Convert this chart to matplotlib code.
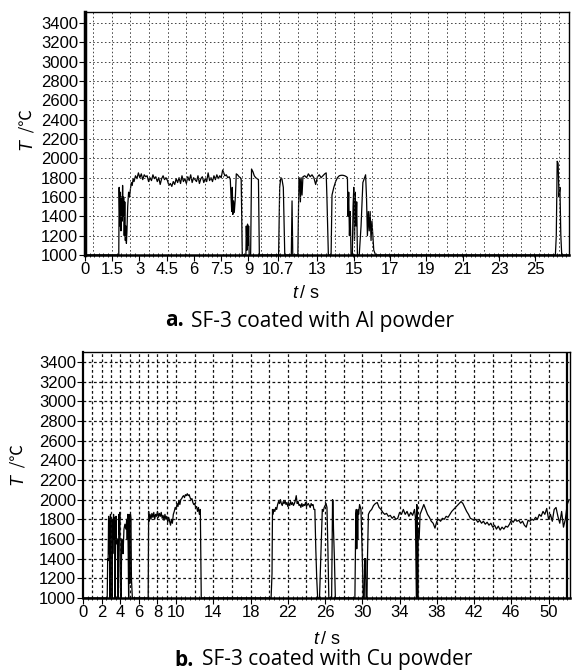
import matplotlib
matplotlib.use('Agg')
import matplotlib.pyplot as plt
import numpy as np

plt.rcParams['mathtext.fontset'] = 'custom'
plt.rcParams['mathtext.it'] = 'Liberation Sans:italic'
plt.rcParams['mathtext.rm'] = 'Liberation Sans'

# panel a: SF-3 coated with Al powder
ta = [0.0, 1.86, 1.88, 1.92, 1.95, 1.98, 2.01, 2.04, 2.07, 2.10, 2.13, 2.16, 2.19, 2.22, 2.25, 2.28,
      2.31, 2.35, 2.40, 2.45, 2.50, 2.55, 2.60, 2.65, 2.70,
      2.78, 2.86, 2.94, 3.02, 3.10, 3.18, 3.26, 3.34, 3.42, 3.50, 3.58, 3.66, 3.74, 3.82, 3.90, 3.98,
      4.06, 4.14, 4.22, 4.30, 4.38, 4.46, 4.54, 4.62, 4.70, 4.78, 4.86, 4.94, 5.02, 5.10, 5.18, 5.26,
      5.34, 5.42, 5.50, 5.58, 5.66, 5.74, 5.82, 5.90, 5.98, 6.06, 6.14, 6.22, 6.30, 6.38, 6.46, 6.54,
      6.62, 6.70, 6.78, 6.86, 6.94, 7.02, 7.10, 7.18, 7.26, 7.34, 7.42, 7.50, 7.58, 7.64, 7.70, 7.78,
      7.86, 7.94, 8.00, 8.04, 8.08, 8.11, 8.14, 8.18, 8.22, 8.28, 8.33, 8.40, 8.48, 8.56, 8.60, 8.66,
      8.86, 8.88, 8.92, 8.95, 8.98, 9.01, 9.04, 9.12, 9.17, 9.25, 9.32, 9.40, 9.48, 9.55, 9.60,
      10.66, 10.72, 10.78, 10.84, 10.92, 11.00, 11.36, 11.40, 11.44,
      11.72, 11.78, 11.82, 11.86, 11.90, 11.95, 12.00, 12.10, 12.20, 12.30, 12.40, 12.50, 12.60, 12.70,
      12.80, 12.90, 13.00, 13.10, 13.20, 13.28, 13.32, 13.40,
      13.55, 13.60, 13.70, 13.80, 13.90, 14.00, 14.10, 14.20, 14.30, 14.40, 14.45, 14.48, 14.52, 14.56,
      14.60, 14.65, 14.72, 14.76, 14.80, 14.84, 14.88, 14.92, 14.96, 15.00, 15.10, 15.20, 15.30, 15.45,
      15.50, 15.55, 15.60, 15.65, 15.70, 15.75, 15.80, 15.90, 16.00,
      25.90, 25.95, 26.00, 26.05, 26.10, 26.15, 26.20, 26.25, 26.80]
Ta = [1000, 1000, 1700, 1300, 1650, 1250, 1600, 1350, 1720, 1400, 1600, 1200, 1550, 1150, 1300, 1120,
      1250, 1500, 1650, 1600, 1680, 1750, 1720, 1790, 1760,
      1820, 1790, 1850, 1800, 1840, 1780, 1830, 1810, 1820, 1760, 1800, 1770, 1830, 1790, 1810, 1760,
      1800, 1730, 1790, 1820, 1780, 1800, 1770, 1720, 1740, 1710, 1760, 1730, 1790, 1750, 1800, 1740,
      1820, 1760, 1790, 1740, 1810, 1770, 1830, 1750, 1800, 1780, 1760, 1820, 1740, 1790, 1810, 1750,
      1790, 1760, 1850, 1770, 1800, 1760, 1820, 1780, 1830, 1790, 1820, 1800, 1880, 1850, 1820, 1830,
      1800, 1810, 1780, 1600, 1450, 1700, 1420, 1560, 1440, 1600, 1840, 1830, 1810, 1800, 1780, 1000,
      1000, 1300, 1050, 1320, 1100, 1300, 1000, 1000, 1890, 1860, 1820, 1800, 1790, 1780, 1000,
      1000, 1700, 1800, 1790, 1700, 1000, 1000, 1560, 1000,
      1000, 1800, 1790, 1550, 1800, 1620, 1810, 1820, 1800, 1840, 1810, 1830, 1800, 1730,
      1810, 1830, 1800, 1820, 1840, 1850, 1600, 1000,
      1000, 1620, 1700, 1760, 1800, 1820, 1825, 1825, 1820, 1810, 1800, 1400, 1650, 1200,
      1450, 1000, 1000, 1500, 1700, 1150, 1650, 1300, 1550, 1000, 1000, 1300, 1750, 1830,
      1600, 1200, 1450, 1250, 1450, 1150, 1350, 1050, 1000,
      1000, 1200, 1970, 1950, 1600, 1700, 1200, 1000, 1000]

a_ticks = [0, 1.5, 3, 4.5, 6, 7.5, 9, 10.6, 12.8, 14.8, 16.8, 18.8, 20.8, 22.8, 24.8]
a_labels = ['0', '1.5', '3', '4.5', '6', '7.5', '9', '10.7', '13', '15', '17', '19', '21', '23', '25']

# panel b: SF-3 coated with Cu powder
tb = [0.0, 2.60, 2.65, 2.70, 2.75, 2.80, 2.85, 2.90, 2.95, 3.00, 3.05, 3.10, 3.15, 3.20, 3.28, 3.35,
      3.40, 3.45, 3.50, 3.55, 3.60, 3.70, 3.75, 3.80, 3.85, 3.90, 3.95, 4.00, 4.05, 4.10, 4.15, 4.25,
      4.30, 4.40, 4.50, 4.60, 4.70, 4.75, 4.80, 4.85, 4.90, 4.95, 5.00, 5.05, 5.10, 5.15, 5.20, 5.30,
      7.00, 7.05, 7.10, 7.20, 7.30, 7.40, 7.50, 7.60, 7.70, 7.80, 7.90, 8.00, 8.10, 8.20, 8.30, 8.40,
      8.50, 8.60, 8.70, 8.80, 8.90, 9.00, 9.10, 9.20, 9.30, 9.40, 9.50, 9.60, 9.70, 9.80, 9.90, 10.0,
      10.1, 10.2, 10.3, 10.4, 10.5, 10.6, 10.7, 10.8, 10.9, 11.0, 11.1, 11.2, 11.3, 11.4, 11.5, 11.6,
      11.7, 11.8, 11.9, 12.0, 12.1, 12.2, 12.3, 12.4, 12.5, 12.6, 12.65, 12.7,
      20.2, 20.3, 20.35, 20.4, 20.5, 20.6, 20.7, 20.8, 20.9, 21.0, 21.1, 21.2, 21.3, 21.4, 21.5, 21.6,
      21.7, 21.8, 21.9, 22.0, 22.1, 22.2, 22.3, 22.4, 22.5, 22.6, 22.7, 22.8, 22.9, 23.0, 23.1, 23.2,
      23.3, 23.4, 23.5, 23.6, 23.7, 23.8, 23.9, 24.0, 24.1, 24.2, 24.3, 24.4, 24.5, 24.6, 24.7, 24.8,
      24.9, 25.0, 25.1, 25.2, 25.4, 25.5, 25.7, 25.8, 25.9, 26.0, 26.1, 26.2, 26.3, 26.4, 26.7, 26.8,
      26.85, 26.9, 27.0, 27.1, 27.3,
      29.2, 29.3, 29.35, 29.4, 29.45, 29.5, 29.55, 29.6, 29.7, 29.85, 30.0, 30.1, 30.2, 30.25, 30.3,
      30.35, 30.4, 30.5, 30.55, 30.65, 30.8, 31.0, 31.2, 31.4, 31.6, 31.8, 32.0, 32.2, 32.4, 32.6,
      32.8, 33.0, 33.2, 33.4, 33.6, 33.8, 34.0, 34.2, 34.4, 34.6, 34.8, 35.0, 35.2, 35.4, 35.6, 35.7,
      35.8, 35.85, 35.9, 35.95, 36.0, 36.1, 36.2, 36.4, 36.6, 36.8, 37.0, 37.2, 37.4, 37.6, 37.8, 38.0,
      38.2, 38.4, 38.6, 38.8, 39.0, 39.2, 39.4, 39.6, 39.8, 40.0, 40.2, 40.4, 40.6, 40.8, 41.0, 41.2,
      41.4, 41.6, 41.8, 42.0, 42.2, 42.4, 42.6, 42.8, 43.0, 43.2, 43.4, 43.6, 43.8, 44.0, 44.2, 44.4,
      44.6, 44.8, 45.0, 45.2, 45.4, 45.6, 45.8, 46.0, 46.2, 46.4, 46.6, 46.8, 47.0, 47.2, 47.4, 47.6,
      47.8, 48.0, 48.2, 48.4, 48.6, 48.8, 49.0, 49.2, 49.4, 49.6, 49.8, 50.0, 50.2, 50.4, 50.6, 50.8,
      51.0, 51.2, 51.4, 51.6, 51.8, 52.0, 52.2]
Tb = [1000, 1000, 1400, 1380, 1830, 1450, 1800, 1000, 1850, 1500, 1820, 1000, 1800, 1450, 1850, 1600,
      1820, 1000, 1700, 1830, 1550, 1600, 1000, 1000, 1850, 1650, 1870, 1300, 1000, 1000, 1600, 1580,
      1450, 1700, 1750, 1700, 1800, 1600, 1850, 1500, 1000, 1850, 1800, 1150, 1850, 1800, 1200, 1000,
      1000, 1880, 1780, 1850, 1800, 1860, 1820, 1870, 1800, 1850, 1830, 1880, 1820, 1860, 1830, 1870,
      1810, 1840, 1790, 1850, 1800, 1830, 1770, 1820, 1780, 1740, 1800, 1760, 1850, 1880, 1920, 1900,
      1960, 1930, 1990, 1950, 2000, 2010, 2030, 2040, 2020, 2050, 2040, 2060, 2040, 2050, 2020, 2000,
      2010, 1970, 1950, 1960, 1920, 1930, 1880, 1920, 1850, 1900, 1450, 1000,
      1000, 1250, 1900, 1850, 1900, 1880, 1920, 1900, 1950, 1980, 1960, 2000, 1960, 1940, 1980, 1960,
      1990, 1950, 1970, 1930, 1960, 1940, 1980, 1950, 1970, 1940, 1960, 1990, 2040, 1960, 1980, 1940,
      1950, 1920, 1960, 1930, 1950, 1940, 1970, 1930, 1950, 1960, 1940, 1920, 1960, 1940, 1950, 1900,
      1900, 1500, 1200, 1000, 1000, 1300, 1900, 1880, 1920, 1940, 1960, 1920, 1500, 1000, 1000, 2000,
      1990, 1700, 1400, 1000, 1000,
      1000, 1850, 1900, 1500, 1880, 1600, 1900, 1850, 1950, 1900, 1400, 1000, 1000, 1400, 1200,
      1400, 1000, 1000, 1400, 1850, 1880, 1900, 1940, 1960, 1970, 1920, 1900, 1870, 1850, 1860,
      1830, 1840, 1810, 1830, 1800, 1810, 1870, 1850, 1900, 1850, 1880, 1830, 1870, 1840, 1900, 1820,
      1000, 1950, 1650, 1000, 1700, 1600, 1850, 1900, 1950, 1900, 1850, 1820, 1780, 1760, 1710, 1780,
      1800, 1780, 1810, 1800, 1830, 1820, 1850, 1880, 1900, 1920, 1940, 1960, 1980, 1960, 1920, 1880,
      1850, 1810, 1800, 1790, 1800, 1770, 1790, 1760, 1780, 1750, 1770, 1740, 1760, 1720, 1740, 1700,
      1730, 1690, 1720, 1700, 1730, 1720, 1750, 1790, 1770, 1800, 1780, 1790, 1760, 1780, 1740, 1720,
      1790, 1780, 1800, 1790, 1820, 1800, 1850, 1830, 1880, 1850, 1910, 1800, 1850, 1780, 1900, 1920,
      1830, 1760, 1880, 1720, 1800, 1950, 2000]

b_ticks = [0, 2, 4, 6, 8, 10, 14, 18, 22, 26, 30, 34, 38, 42, 46, 50]

y_ticks = [1000, 1200, 1400, 1600, 1800, 2000, 2200, 2400, 2600, 2800, 3000, 3200, 3400]

num_font = 'Liberation Sans'

fig = plt.figure(figsize=(5.72, 6.72), dpi=100)
ax1 = fig.add_axes([85/572, 1-255/672, 484/572, 243/672])
ax2 = fig.add_axes([83/572, 1-598/672, 487/572, 246/672])

# TOP PANEL (lighter dotted grid)
grid_a = dict(color='#444444', lw=0.7, ls=(0, (1.6, 2.4)))
ax1.plot(ta, Ta, color='k', lw=0.9)
ax1.set_xlim(0, 26.65)
ax1.set_ylim(1000, 3515)
ax1.set_xticks(a_ticks)
ax1.set_xticklabels(a_labels)
for g in np.arange(0.45, 26.6, 1.025):
    ax1.axvline(g, **grid_a)
for g in y_ticks[1:]:
    ax1.axhline(g, **grid_a)
ax1.xaxis.set_minor_locator(matplotlib.ticker.MultipleLocator(0.25))
ax1.spines['left'].set_linewidth(2.5)
ax1.spines['bottom'].set_linewidth(1.8)

# BOTTOM PANEL (darker dashed grid)
grid_b = dict(color='#111111', lw=0.9, ls=(0, (2.2, 2.0)))
ax2.plot(tb, Tb, color='k', lw=0.9)
ax2.set_xlim(0, 52.3)
ax2.set_ylim(1000, 3500)
ax2.set_xticks(b_ticks)
for g in list(range(1, 11)) + list(range(12, 52, 2)):
    ax2.axvline(g, **grid_b)
ax2.axvline(52, color='k', lw=1.6)
for g in y_ticks[1:]:
    ax2.axhline(g, **grid_b)
ax2.xaxis.set_minor_locator(matplotlib.ticker.MultipleLocator(0.5))
ax2.spines['left'].set_linewidth(1.6)
ax2.spines['bottom'].set_linewidth(1.8)

for ax in (ax1, ax2):
    ax.set_yticks(y_ticks)
    ax.tick_params(axis='both', which='major', length=4, width=0.8, pad=1, labelsize=12)
    ax.tick_params(axis='x', which='minor', length=3, width=0.6, direction='inout')
    for lab in ax.get_xticklabels() + ax.get_yticklabels():
        lab.set_family(num_font)
    for s in ('top', 'right'):
        ax.spines[s].set_linewidth(1.0)

# AXIS LABELS: italic symbol plus upright unit
unit_font = ['Noto Sans CJK SC', 'DejaVu Sans']
for xc, yc in ((27, 137), (18, 472)):
    fig.text(xc/572, 1-(yc+2)/672, 'T', rotation=90, ha='center', va='top', fontsize=13,
             style='italic', family='Liberation Sans')
    fig.text(xc/572, 1-(yc-1)/672, ' /℃', rotation=90, ha='center', va='bottom', fontsize=12,
             family=unit_font)
fig.text(306/572, 1-294/672, r'$t\,$/ s', ha='center', va='center', fontsize=13, family='Liberation Sans')
fig.text(327/572, 1-639/672, r'$t\,$/ s', ha='center', va='center', fontsize=13, family='Liberation Sans')

# CAPTIONS
fig.text(184/572, 1-321/672, 'a.', ha='right', va='center', fontsize=15, weight='bold', family='Open Sans')
fig.text(191/572, 1-321/672, 'SF-3 coated with Al powder', ha='left', va='center', fontsize=15, family='Open Sans')
fig.text(194/572, 1-660/672, 'b.', ha='right', va='center', fontsize=15, weight='bold', family='Open Sans')
fig.text(202/572, 1-660/672, 'SF-3 coated with Cu powder', ha='left', va='center', fontsize=15, family='Open Sans')

fig.savefig('out.png', dpi=100)
